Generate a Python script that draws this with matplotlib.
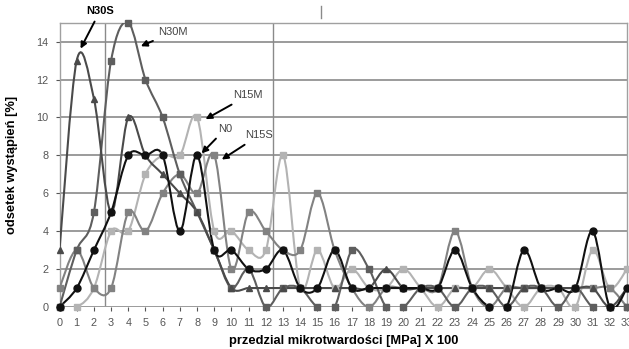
import numpy as np
import matplotlib
matplotlib.use("Agg")
import matplotlib.pyplot as plt
from matplotlib.path import Path
from matplotlib.patches import PathPatch

plt.rcParams['font.family'] = ['Liberation Sans', 'DejaVu Sans']

# ---- data ----
x_vals = list(range(0, 34))
n0   = [0, 1, 3, 5, 8, 8, 8, 4, 8, 3, 3, 2, 2, 3, 1, 1, 3, 1, 1, 1, 1, 1, 1, 3, 1, 0, 0, 3, 1, 1, 1, 4, 0, 1]
n30s = [3, 13, 11, 5, 10, 8, 7, 6, 5, 3, 1, 1, 1, 1, 1, 1, 1, 1, 1, 2, 1, 1, 1, 1, 1, 1, 1, 1, 1, 1, 1, 1, 0, 1]
n30m = [0, 3, 5, 13, 15, 12, 10, 7, 5, 3, 1, 2, 0, 1, 1, 0, 0, 3, 2, 0, 0, 1, 1, 0, 1, 1, 0, 1, 1, 0, 1, 0, 0, 0]
n15s = [1, 3, 1, 1, 5, 4, 6, 7, 6, 8, 2, 5, 4, 3, 3, 6, 3, 1, 0, 1, 1, 1, 1, 4, 1, 0, 1, 1, 1, 1, 1, 1, 1, 0]
n15m = [0, 0, 1, 4, 4, 7, 8, 8, 10, 4, 4, 3, 3, 8, 1, 3, 1, 2, 1, 1, 2, 1, 0, 1, 1, 2, 1, 0, 1, 1, 0, 3, 1, 2]
y_ticks = [0, 2, 4, 6, 8, 10, 12, 14]

series = [
    (n15m, '#b3b3b3', 's'),
    (n15s, '#828282', 's'),
    (n30m, '#5e5e5e', 's'),
    (n30s, '#4a4a4a', '^'),
    (n0,   '#111111', 'o'),
]

W, H = 629, 349
fig = plt.figure(figsize=(W / 100, H / 100), dpi=100)
ax = fig.add_axes([59.5 / W, 42 / H, (627 - 59.5) / W, (307 - 22.7) / H])
ax.set_xlim(0, 33)
ax.set_ylim(0, 15)


def smooth_path(xs, ys):
    pts = np.column_stack([xs, ys]).astype(float)
    n = len(pts)
    verts = [pts[0]]
    codes = [Path.MOVETO]
    for i in range(n - 1):
        p0 = pts[i - 1] if i > 0 else pts[i]
        p1 = pts[i]
        p2 = pts[i + 1]
        p3 = pts[i + 2] if i + 2 < n else pts[i + 1]
        c1 = p1 + (p2 - p0) / 6.0
        c2 = p2 - (p3 - p1) / 6.0
        verts += [c1, c2, p2]
        codes += [Path.CURVE4] * 3
    return Path(verts, codes)


for vals, col, mk in series:
    patch = PathPatch(smooth_path(x_vals, vals), fill=False, edgecolor=col,
                      lw=1.5, zorder=3, clip_on=True)
    ax.add_patch(patch)
    ax.plot(x_vals, vals, linestyle='none', marker=mk, color=col,
            markersize=5, zorder=4, clip_on=False)

# grid
for yv in y_ticks:
    ax.axhline(yv, color='#8a8a8a', lw=1.2, zorder=1)

for sp in ['top', 'left', 'right']:
    ax.spines[sp].set_color('#a0a0a0')
    ax.spines[sp].set_linewidth(1.0)
ax.spines['bottom'].set_visible(False)

# scan artifact vertical lines
ax.plot([2.65, 2.65], [0.1, 15], color='#8a8a8a', lw=1.0, zorder=2)
ax.plot([12.4, 12.4], [0.4, 15], color='#8a8a8a', lw=1.0, zorder=2)
ax.plot([15.2, 15.2], [15.25, 15.9], color='#8a8a8a', lw=1.0, zorder=2, clip_on=False)

ax.set_xticks(x_vals)
ax.set_xticklabels([str(v) for v in x_vals])
ax.set_yticks(y_ticks)
ax.set_yticklabels([str(v) for v in y_ticks])
ax.tick_params(axis='x', labelsize=7.8, colors='#555555', length=3, width=0.8,
               pad=5, direction='out')
ax.tick_params(axis='y', labelsize=7.8, colors='#555555', length=3, width=0.8,
               pad=5)

ax.set_xlabel('przedzial mikrotwardości [MPa] X 100', fontsize=9.3,
              fontweight='bold', labelpad=5)
ax.set_ylabel('odsetek wystąpień [%]', fontsize=9.3, fontweight='bold',
              labelpad=13)

arrow = dict(arrowstyle='-|>', color='black', lw=1.4, mutation_scale=9)
ax.annotate('N30S', xy=(1.15, 13.5), xytext=(2.35, 15.6), fontsize=8,
            fontweight='bold', ha='center', va='center', arrowprops=arrow,
            annotation_clip=False)
ax.annotate('N30M', xy=(4.58, 13.7), xytext=(6.6, 14.5), fontsize=8,
            color='#444444', ha='center', va='center', arrowprops=arrow)
ax.annotate('N15M', xy=(8.35, 9.84), xytext=(10.96, 11.16), fontsize=8,
            color='#444444', ha='center', va='center', arrowprops=arrow)
ax.annotate('N0', xy=(8.15, 8.0), xytext=(9.65, 9.4), fontsize=8,
            color='#444444', ha='center', va='center', arrowprops=arrow)
ax.annotate('N15S', xy=(9.3, 7.7), xytext=(11.6, 9.05), fontsize=8,
            color='#444444', ha='center', va='center', arrowprops=arrow)

fig.savefig('out.png', dpi=100)
